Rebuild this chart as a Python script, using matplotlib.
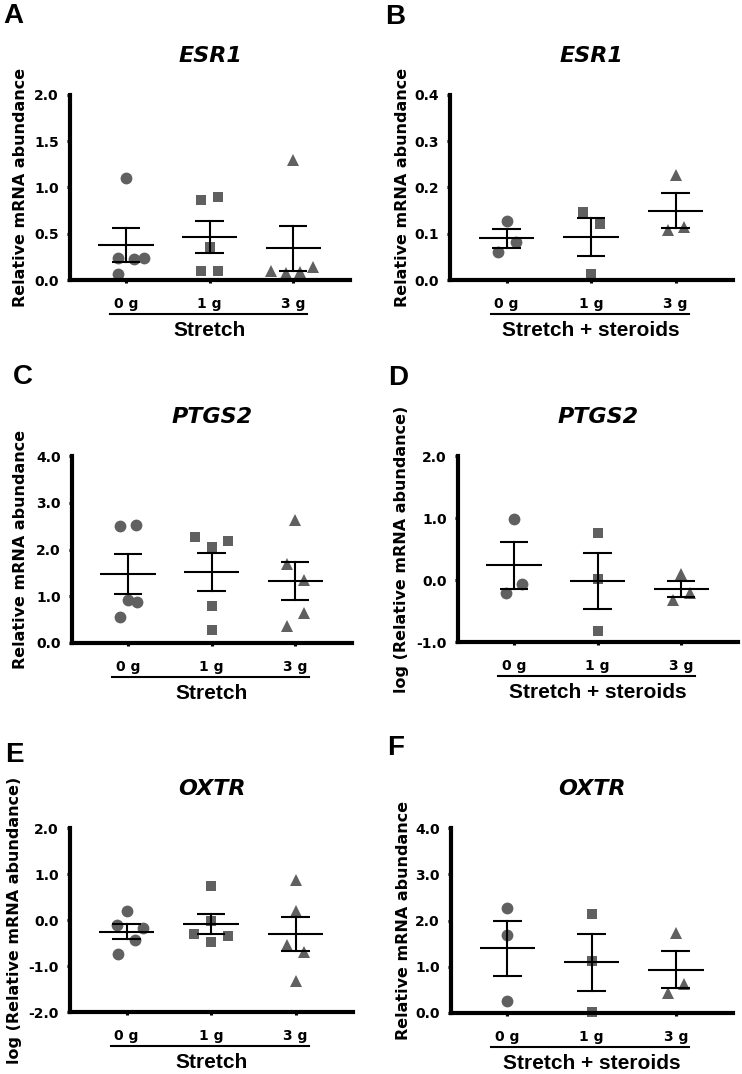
import matplotlib
matplotlib.use('Agg')
import matplotlib.pyplot as plt
import numpy as np
from matplotlib.transforms import ScaledTranslation

plt.rcParams['axes.unicode_minus'] = False

W, H = 742, 1074
groups = ['0 g', '1 g', '3 g']
markers = ['o', 's', '^']

# ---- data ----
# A: ESR1, Stretch
a_vals = [[1.10, 0.24, 0.23, 0.24, 0.06],
          [0.865, 0.90, 0.36, 0.10, 0.10],
          [1.30, 0.10, 0.08, 0.09, 0.14]]
a_dx = [[0, -0.1, 0.1, 0.21, -0.1], [-0.1, 0.1, 0, -0.1, 0.1], [0, -0.26, -0.09, 0.08, 0.24]]
# B: ESR1, Stretch + steroids
b_vals = [[0.128, 0.082, 0.060],
          [0.146, 0.122, 0.012],
          [0.227, 0.108, 0.115]]
b_dx = [[0, 0.11, -0.1], [-0.1, 0.1, 0], [0, -0.09, 0.1]]
# C: PTGS2, Stretch
c_vals = [[2.50, 2.52, 0.914, 0.879, 0.55],
          [2.27, 2.06, 2.19, 0.80, 0.27],
          [2.64, 1.68, 1.34, 0.64, 0.36]]
c_dx = [[-0.1, 0.1, 0, 0.11, -0.1], [-0.2, 0, 0.2, 0, 0], [0, -0.1, 0.1, 0.1, -0.1]]
# D: PTGS2, Stretch + steroids (log)
d_vals = [[0.98, -0.06, -0.215],
          [0.76, 0.016, -0.82],
          [0.097, -0.215, -0.318]]
d_dx = [[0, 0.1, -0.1], [0, 0, 0], [0, 0.1, -0.1]]
# E: OXTR, Stretch (log)
e_vals = [[0.20, -0.10, -0.18, -0.43, -0.74],
          [0.73, -0.02, -0.30, -0.35, -0.48],
          [0.86, 0.20, -0.55, -0.70, -1.33]]
e_dx = [[0, -0.11, 0.2, 0.1, -0.1], [0, 0, -0.2, 0.2, 0], [0, 0, -0.1, 0.1, 0]]
# F: OXTR, Stretch + steroids
f_vals = [[2.27, 1.68, 0.26],
          [2.15, 1.12, 0.014],
          [1.73, 0.63, 0.44]]
f_dx = [[0, 0, 0], [0, 0, 0], [0, 0.1, -0.09]]

lin_label = 'Relative mRNA abundance'
log_label = 'log (Relative mRNA abundance)'

panels = [
    dict(letter='A', title='ESR1', vals=a_vals, dx=a_dx, ylim=(0, 2.0), yticks=[0, 0.5, 1.0, 1.5, 2.0],
         ylabel=lin_label, xlabel='Stretch', box=(70, 95, 350, 280), lab=42, lpos=(3, 3)),
    dict(letter='B', title='ESR1', vals=b_vals, dx=b_dx, ylim=(0, 0.4), yticks=[0, 0.1, 0.2, 0.3, 0.4],
         ylabel=lin_label, xlabel='Stretch + steroids', box=(450, 95, 733, 280), lab=40, lpos=(385, 4)),
    dict(letter='C', title='PTGS2', vals=c_vals, dx=c_dx, ylim=(0, 4.0), yticks=[0, 1, 2, 3, 4],
         ylabel=lin_label, xlabel='Stretch', box=(72, 456, 352, 643), lab=44, lpos=(13, 364)),
    dict(letter='D', title='PTGS2', vals=d_vals, dx=d_dx, ylim=(-1.0, 2.0), yticks=[-1, 0, 1, 2],
         ylabel=log_label, xlabel='Stretch + steroids', box=(458, 456, 738, 642), lab=49, lpos=(388, 365)),
    dict(letter='E', title='OXTR', vals=e_vals, dx=e_dx, ylim=(-2.0, 2.0), yticks=[-2, -1, 0, 1, 2],
         ylabel=log_label, xlabel='Stretch', box=(70, 828, 353, 1012), lab=48, lpos=(5, 742)),
    dict(letter='F', title='OXTR', vals=f_vals, dx=f_dx, ylim=(0, 4.0), yticks=[0, 1, 2, 3, 4],
         ylabel=lin_label, xlabel='Stretch + steroids', box=(451, 828, 733, 1013), lab=40, lpos=(387, 735)),
]

gray = '#606060'
fig = plt.figure(figsize=(W / 100, H / 100), dpi=100)
tick_font = dict(family='DejaVu Sans', weight='bold')

for p in panels:
    l, t, r, b = p['box']
    ax = fig.add_axes([l / W, 1 - b / H, (r - l) / W, (b - t) / H])
    for i, (vals, dxs) in enumerate(zip(p['vals'], p['dx'])):
        v = np.array(vals, dtype=float)
        x = i + np.array(dxs, dtype=float)
        ms = 7.5 if markers[i] == 's' else 8.5
        ax.plot(x, v, linestyle='none', marker=markers[i], ms=ms, color=gray,
                markeredgewidth=0, clip_on=False, zorder=2)
        m = v.mean()
        sem = v.std(ddof=1) / np.sqrt(len(v))
        ax.plot([i - 0.33, i + 0.33], [m, m], color='black', lw=1.5, zorder=3, solid_capstyle='butt')
        ax.plot([i, i], [m - sem, m + sem], color='black', lw=1.5, zorder=3)
        for yy in (m - sem, m + sem):
            ax.plot([i - 0.17, i + 0.17], [yy, yy], color='black', lw=1.5, zorder=3, solid_capstyle='butt')
    ax.set_xlim(-0.67, 2.68)
    ax.set_ylim(*p['ylim'])
    ax.set_yticks(p['yticks'])
    ax.set_yticklabels(['%.1f' % v for v in p['yticks']], fontsize=10, **tick_font)
    ax.set_xticks(range(3))
    ax.set_xticklabels(groups, fontsize=10, **tick_font)
    for s in ('top', 'right'):
        ax.spines[s].set_visible(False)
    for s in ('left', 'bottom'):
        ax.spines[s].set_linewidth(3)
    ax.tick_params(axis='y', length=2.5, width=2.2, pad=5.5, direction='out')
    ax.tick_params(axis='x', length=2.5, width=2.2, pad=10, direction='out')
    ax.set_ylabel(p['ylabel'], fontsize=11.5, **tick_font)
    ax.yaxis.set_label_coords(-p['lab'] / (r - l), 0.5)
    # title
    ax.text(0.5, 1.0, p['title'], transform=ax.transAxes + ScaledTranslation(0, 33 / 100, fig.dpi_scale_trans),
            ha='center', va='baseline', fontsize=16, family='DejaVu Sans', weight='bold', style='italic')
    # underline + group label
    tr = ax.get_xaxis_transform()
    ax.plot([-0.19, 2.16], [0, 0], color='black', lw=1.5, clip_on=False,
            transform=tr + ScaledTranslation(0, -34 / 100, fig.dpi_scale_trans))
    ax.text(1.0, 0, p['xlabel'], transform=tr + ScaledTranslation(0, -56 / 100, fig.dpi_scale_trans),
            ha='center', va='baseline', fontsize=15, family='Liberation Sans', weight='bold')
    # panel letter
    fig.text(p['lpos'][0] / W, 1 - p['lpos'][1] / H, p['letter'], ha='left', va='top',
             fontsize=20, family='Liberation Sans', weight='bold')

fig.savefig('out.png', dpi=100)
